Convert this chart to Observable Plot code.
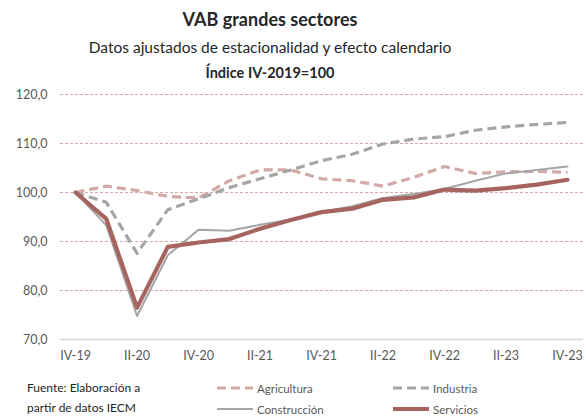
<!DOCTYPE html>
<html>
<head>
<meta charset="utf-8">
<script src="https://cdn.jsdelivr.net/npm/d3@7"></script>
<script src="https://cdn.jsdelivr.net/npm/@observablehq/plot@0.6"></script>
<style>
  html, body { margin: 0; padding: 0; background: #fff; }
  body { width: 586px; height: 416px; position: relative; overflow: hidden; font-family: Lato, "Open Sans", sans-serif; }
  .t { position: absolute; left: 0; width: 540px; text-align: center; color: #262626; white-space: nowrap; }
  #chart { position: absolute; left: 0; top: 80px; }
  .leg { position: absolute; font-size: 11.5px; color: #595959; white-space: nowrap; }
  .src { position: absolute; left: 27px; top: 378px; font-size: 12px; line-height: 20px; color: #262626; }
</style>
</head>
<body>
<div class="t" style="top:8px;font-size:18px;font-weight:bold;">VAB grandes sectores</div>
<div class="t" style="top:38px;font-size:15.5px;">Datos ajustados de estacionalidad y efecto calendario</div>
<div class="t" style="top:64px;font-size:14.5px;font-weight:bold;">Índice IV-2019=100</div>
<div id="chart"></div>
<div class="src">Fuente: Elaboración a<br>partir de datos IECM</div>
<div id="legend"></div>
<script>
const quarters = ["IV-19","I-20","II-20","III-20","IV-20","I-21","II-21","III-21","IV-21","I-22","II-22","III-22","IV-22","I-23","II-23","III-23","IV-23"];
const tickLabels = ["IV-19","II-20","IV-20","II-21","IV-21","II-22","IV-22","II-23","IV-23"];
const agricultura  = [100, 101.3, 100.4, 99.2, 98.9, 102.4, 104.6, 104.6, 102.8, 102.4, 101.3, 103.1, 105.3, 103.9, 104.2, 104.3, 104.1];
const industria    = [100, 98.0, 87.6, 96.5, 98.7, 101.0, 102.8, 104.6, 106.5, 107.8, 109.9, 110.9, 111.4, 112.7, 113.4, 113.9, 114.3];
const construccion = [100, 93.3, 74.8, 87.2, 92.4, 92.2, 93.4, 94.5, 96.0, 97.2, 98.9, 99.7, 100.7, 102.4, 103.9, 104.6, 105.3];
const servicios    = [100, 94.6, 76.5, 88.9, 89.8, 90.5, 92.6, 94.4, 96.0, 96.7, 98.5, 99.0, 100.6, 100.4, 100.9, 101.6, 102.6];
const gridValues = [80, 90, 100, 110, 120];
const yTicks = [70, 80, 90, 100, 110, 120];

const series = [
  {name: "Agricultura", values: agricultura, stroke: "#d3a9a6", width: 3.2, dash: "9,5"},
  {name: "Industria", values: industria, stroke: "#a5a5a5", width: 3.2, dash: "9,5"},
  {name: "Construcción", values: construccion, stroke: "#a5a5a5", width: 2, dash: null},
  {name: "Servicios", values: servicios, stroke: "#a66461", width: 4.2, dash: null}
];

const idx = d3.range(quarters.length);
const tickIdx = tickLabels.map(l => quarters.indexOf(l));
const fmt = d => d.toFixed(1).replace(".", ",");

const chart = Plot.plot({
  width: 586,
  height: 300,
  marginLeft: 60,
  marginRight: 3,
  marginTop: 14,
  marginBottom: 41,
  style: {fontFamily: "Lato, 'Open Sans', sans-serif", fontSize: "12px", color: "#595959", background: "#fff"},
  x: {type: "linear", domain: [-0.49, 16.52]},
  y: {domain: [70, 120]},
  marks: [
    Plot.ruleY(gridValues, {stroke: "#d4a7a7", strokeWidth: 1, strokeDasharray: "3,2"}),
    Plot.ruleY([70], {stroke: "#d9d9d9", strokeWidth: 1.5}),
    Plot.axisY({ticks: yTicks, tickSize: 0, tickPadding: 13, tickFormat: fmt, fill: "#595959", fontSize: 12.5}),
    Plot.axisX({ticks: tickIdx, tickSize: 0, tickPadding: 12, tickFormat: i => quarters[i], fill: "#595959", fontSize: 12.5}),
    ...series.map(s => Plot.line(idx, {
      x: i => i,
      y: i => s.values[i],
      stroke: s.stroke,
      strokeWidth: s.width,
      strokeDasharray: s.dash || undefined,
      strokeLinejoin: "round",
      strokeLinecap: s.dash ? "butt" : "round"
    }))
  ]
});
document.getElementById("chart").appendChild(chart);

// legend
const legendPos = [
  {x: 217, y: 388},
  {x: 393, y: 388},
  {x: 217, y: 409},
  {x: 393, y: 409}
];
const legend = document.getElementById("legend");
series.forEach((s, k) => {
  const p = legendPos[k];
  const div = document.createElement("div");
  div.className = "leg";
  div.style.left = p.x + "px";
  div.style.top = (p.y - 8) + "px";
  const sw = 36;
  div.innerHTML = `<svg width="${sw}" height="16" style="vertical-align:middle"><line x1="0" x2="${sw}" y1="8" y2="8" stroke="${s.stroke}" stroke-width="${s.width}" ${s.dash ? `stroke-dasharray="${s.dash}"` : ""} stroke-linecap="${s.dash ? "butt" : "round"}"/></svg><span style="margin-left:4px;vertical-align:middle">${s.name}</span>`;
  legend.appendChild(div);
});
</script>
</body>
</html>
